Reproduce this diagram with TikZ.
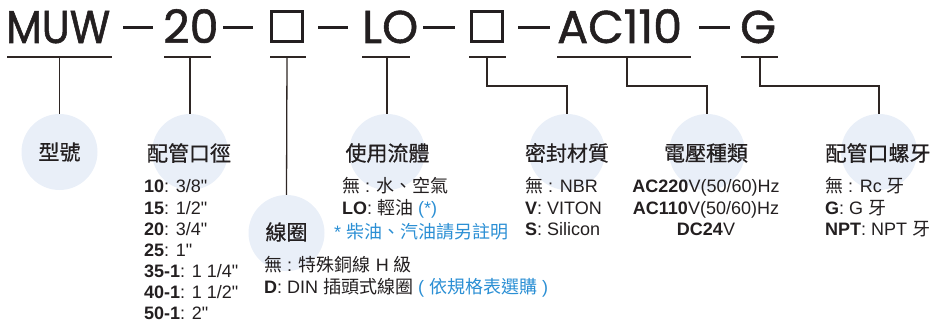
\documentclass[tikz,border=0pt]{standalone}
\usepackage{fontspec}
\setmainfont{Liberation Sans}
\newfontfamily\cjk{Noto Sans CJK TC}
\newfontfamily\cjkh{Noto Sans CJK TC}[FakeBold=0.6]
\newfontfamily\topf{Poppins}[FakeBold=1.2]
\newfontfamily\topfn{Poppins}[FakeBold=1.2,FakeStretch=0.9]
\definecolor{ink}{HTML}{231F20}
\definecolor{lnc}{HTML}{2E2624}
\definecolor{cfill}{HTML}{E9EFF8}
\definecolor{blu}{HTML}{2B8FD4}
\newcommand{\C}[1]{{\cjk #1}}
\newcommand{\qq}{\textquotedbl}
\begin{document}
\begin{tikzpicture}[x=1pt,y=-1pt,
  ln/.style={draw=lnc,line width=1.3pt},
  dsh/.style={draw=ink,line width=3pt},
  topt/.style={anchor=base west,inner sep=0,text=ink,font=\topf\fontsize{46}{46}\selectfont},
  sq/.style={draw=ink,line width=3pt,minimum width=31pt,minimum height=30pt,inner sep=0},
  circ/.style={circle,fill=cfill,minimum size=76pt,inner sep=0},
  head/.style={inner sep=0,text=ink,font=\cjkh\fontsize{21}{21}\selectfont},
  li/.style={anchor=base west,inner sep=0,text=ink,font=\fontsize{18}{21}\selectfont},
  lic/.style={anchor=base,inner sep=0,text=ink,font=\fontsize{18}{21}\selectfont}]
\useasboundingbox (0,0) rectangle (933,323);
% top code line
\node[topt,font=\topfn\fontsize{46}{46}\selectfont] (muw) at (6,43) {MUW};
\node[topt] (n20) at (163,43) {20};
\node[sq] (box1) at (287,26.5) {};
\node[topt] (lo) at (362,43) {LO};
\node[sq] (box2) at (487,26.5) {};
\node[topt] (ac) at (557,43) {AC110};
\node[topt] (g) at (740,43) {G};
\draw[dsh] (123,28) -- (153,28);
\draw[dsh] (223,28) -- (253,28);
\draw[dsh] (318,28) -- (348,28);
\draw[dsh] (423,28) -- (455,28);
\draw[dsh] (518,28) -- (550,28);
\draw[dsh] (699,28) -- (730,28);
% underlines
\draw[ln] (7,57) -- (112,57);
\draw[ln] (164,57) -- (211,57);
\draw[ln] (270,57) -- (306,57);
\draw[ln] (362,57) -- (410,57);
\draw[ln] (469,57) -- (506,57);
\draw[ln] (557,57) -- (691,57);
\draw[ln] (741,57) -- (778,57);
\coordinate (u1) at (59.5,57);
\coordinate (u2) at (190,57);
\coordinate (u3) at (287,57);
\coordinate (u4) at (387,57);
\coordinate (u5) at (487,57);
\coordinate (u6) at (627,57);
\coordinate (u7) at (760,57);
% circles
\node[circ] (c1) at (59.5,152) {};
\node[circ] (c2) at (190,152) {};
\node[circ] (c3) at (286.5,233) {};
\node[circ] (c4) at (387,152) {};
\node[circ] (c5) at (567,152) {};
\node[circ] (c6) at (707,152) {};
\node[circ] (c7) at (879,152) {};
% connectors
\draw[ln] (u1) -- (c1.north);
\draw[ln] (u2) -- (c2.north);
\draw[ln] (u3) -- (c3.north);
\draw[ln] (u4) -- (c4.north);
\draw[ln] (u5) -- (487,86) -| (c5.north);
\draw[ln] (u6) -- (627,86) -| (c6.north);
\draw[ln] (u7) -- (760,86) -| (c7.north);
% headings
\node[head] (h1) at (59.5,152) {型號};
\node[head] (h2) at (189,153) {配管口徑};
\node[head] (h3) at (286.5,232) {線圈};
\node[head] (h4) at (387.5,153) {使用流體};
\node[head] (h5) at (567,153) {密封材質};
\node[head] (h6) at (706,153) {電壓種類};
\node[head] (h7) at (878,153) {配管口螺牙};
% list: pipe size
\node[li] (a1) at (144,193) {\textbf{10}: 3/8\qq};
\node[li] (a2) at (144,214) {\textbf{15}: 1/2\qq};
\node[li] (a3) at (144,235) {\textbf{20}: 3/4\qq};
\node[li] (a4) at (144,256) {\textbf{25}: 1\qq};
\node[li] (a5) at (144,277) {\textbf{35-1}: 1 1/4\qq};
\node[li] (a6) at (144,298) {\textbf{40-1}: 1 1/2\qq};
\node[li] (a7) at (144,319) {\textbf{50-1}: 2\qq};
% list: fluid
\node[li] (b1) at (342,193) {\C{無} : \C{水、空氣}};
\node[li] (b2) at (342,214) {\textbf{LO}: \C{輕油} \textcolor{blu}{(*)}};
\node[li,text=blu] (b3) at (334,238.5) {* \C{柴油、汽油請另註明}};
% list: coil
\node[li] (d1) at (264,271.5) {\C{無} : \C{特殊銅線} H \C{級}};
\node[li] (d2) at (264,293.5) {\textbf{D}: DIN \C{插頭式線圈} \textcolor{blu}{( \C{依規格表選購} )}};
% list: seal
\node[li] (e1) at (525,193) {\C{無} : NBR};
\node[li] (e2) at (525,214) {\textbf{V}: VITON};
\node[li] (e3) at (525,235) {\textbf{S}: Silicon};
% list: voltage
\node[lic] (f1) at (706,193) {\textbf{AC220}V(50/60)Hz};
\node[lic] (f2) at (706,214) {\textbf{AC110}V(50/60)Hz};
\node[lic] (f3) at (706,235) {\textbf{DC24}V};
% list: thread
\node[li] (g1) at (825,193) {\C{無} : Rc \C{牙}};
\node[li] (g2) at (825,214) {\textbf{G}: G \C{牙}};
\node[li] (g3) at (825,235) {\textbf{NPT}: NPT \C{牙}};
\end{tikzpicture}
\end{document}
